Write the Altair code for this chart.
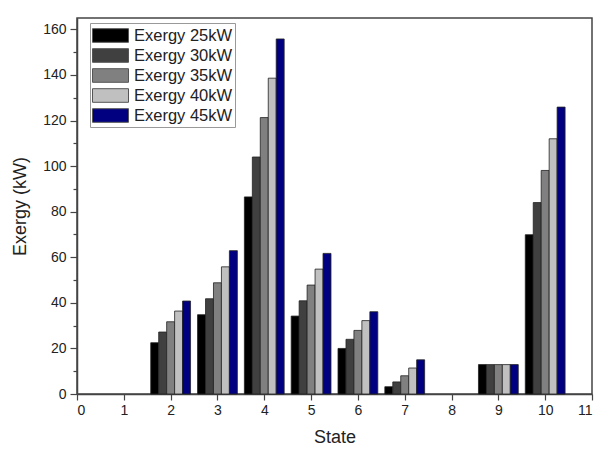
import altair as alt
import pandas as pd

states = [2, 3, 4, 5, 6, 7, 9, 10]
series = ["Exergy 25kW", "Exergy 30kW", "Exergy 35kW", "Exergy 40kW", "Exergy 45kW"]
e25 = [22.5, 34.8, 86.5, 34.2, 20.0, 3.2, 12.9, 69.9]
e30 = [27.2, 41.8, 104.0, 40.9, 24.0, 5.3, 12.9, 84.0]
e35 = [31.7, 48.8, 121.3, 47.8, 27.9, 8.0, 12.9, 98.1]
e40 = [36.4, 55.8, 138.6, 54.8, 32.2, 11.4, 12.9, 112.0]
e45 = [40.8, 62.9, 155.8, 61.7, 36.1, 15.0, 12.9, 125.9]
colors = ["#000000", "#404040", "#808080", "#c0c0c0", "#000080"]

x_ticks = [i * 0.5 for i in range(23)]
y_ticks = list(range(0, 170, 10))

bar_w = 0.17
rows = []
for i, (name, vals) in enumerate(zip(series, [e25, e30, e35, e40, e45])):
    for st, v in zip(states, vals):
        x0 = st - 2.5 * bar_w + i * bar_w
        rows.append({"state": st, "series": name, "x": x0, "x2": x0 + bar_w,
                     "value": v, "base": 0})
df = pd.DataFrame(rows)

font = "Liberation Sans"

chart = alt.Chart(df).mark_bar(stroke="#222222", strokeWidth=0.8).encode(
    x=alt.X("x:Q", scale=alt.Scale(domain=[0, 11], nice=False, zero=False),
            axis=alt.Axis(values=x_ticks, title="State", grid=False, format="d",
                          labelExpr="datum.value % 1 === 0 ? datum.label : ''",
                          tickSize={"condition": {"test": "datum.value % 1 === 0", "value": 6}, "value": 4},
                          labelPadding=3, titlePadding=11)),
    x2="x2:Q",
    y=alt.Y("value:Q", scale=alt.Scale(domain=[0, 165], nice=False),
            axis=alt.Axis(values=y_ticks, title="Exergy (kW)", grid=False, format="d",
                          labelExpr="datum.value % 20 === 0 ? datum.label : ''",
                          tickSize={"condition": {"test": "datum.value % 20 === 0", "value": 7}, "value": 4},
                          labelPadding=4, titlePadding=13)),
    y2="base:Q",
    color=alt.Color("series:N", scale=alt.Scale(domain=series, range=colors),
                    legend=alt.Legend(title=None, orient="none", legendX=13, legendY=5,
                                      symbolType="M-1,-0.68H2.6V0.68H-1Z", symbolSize=400,
                                      symbolStrokeColor="#555555", symbolStrokeWidth=1,
                                      labelFontSize=16.5, labelFont=font, labelColor="#222222",
                                      rowPadding=0, padding=2, strokeColor="#999999",
                                      labelOffset=21, symbolOpacity=1)),
).properties(
    width=515, height=376,
    autosize=alt.AutoSizeParams(type="none"),
    padding={"left": 77, "top": 18, "right": 3, "bottom": 57},
).configure_view(
    stroke="#444444", strokeWidth=1.5
).configure_axis(
    labelFont=font, titleFont=font, labelFontSize=14, titleFontSize=18,
    labelColor="#222222", titleColor="#222222", titleFontWeight="normal",
    domainColor="#444444", domainWidth=1.5, tickColor="#444444", tickWidth=1.2,
)

chart.save("out.html", embed_options={"renderer": "svg", "actions": False})
